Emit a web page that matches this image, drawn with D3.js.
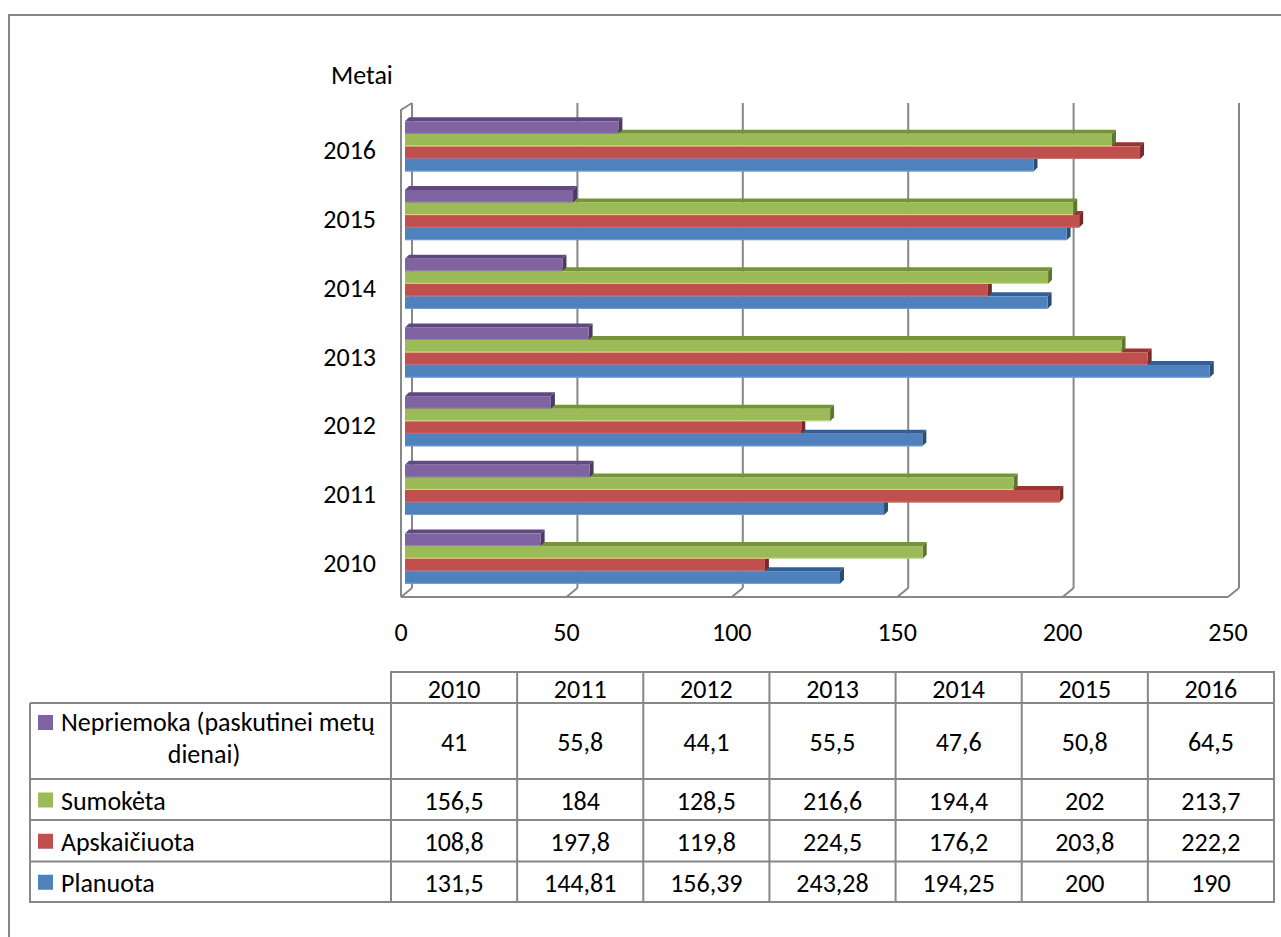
<!DOCTYPE html>
<html>
<head>
<meta charset="utf-8">
<script src="https://cdn.jsdelivr.net/npm/d3@7"></script>
<style>
  body { margin: 0; background: #fff; }
  text { font-family: Carlito, Calibri, Lato, sans-serif; font-size: 26px; fill: #000; }
</style>
</head>
<body>
<div id="chart"></div>
<script>
// data
const years = ["2010", "2011", "2012", "2013", "2014", "2015", "2016"];
const nepriemoka = [41, 55.8, 44.1, 55.5, 47.6, 50.8, 64.5];
const sumoketa = [156.5, 184, 128.5, 216.6, 194.4, 202, 213.7];
const apskaiciuota = [108.8, 197.8, 119.8, 224.5, 176.2, 203.8, 222.2];
const planuota = [131.5, 144.81, 156.39, 243.28, 194.25, 200, 190];
const xTicks = [0, 50, 100, 150, 200, 250];
const seriesNames = ["Nepriemoka (paskutinei metų dienai)", "Sumokėta", "Apskaičiuota", "Planuota"];

const series = [
  { name: seriesNames[0], values: nepriemoka, front: "#8064A2", top: "#5F4A7D", side: "#4B3A63" },
  { name: seriesNames[1], values: sumoketa, front: "#9BBB59", top: "#76923C", side: "#5E7630" },
  { name: seriesNames[2], values: apskaiciuota, front: "#C0504D", top: "#943634", side: "#772A28" },
  { name: seriesNames[3], values: planuota, front: "#4F81BD", top: "#365F91", side: "#2B4C74" }
];

const width = 1281, height = 937;
const gridColor = "#878787";

// plot geometry (front plane)
const plot = { left: 401, right: 1228, top: 116, bottom: 597 };
const wall = { dx: 11, dy: -9 };       // back wall offset
const barOff = { dx: 4, dy: -4 };      // bar front face offset
const barDepth = { dx: 4, dy: -4 };    // bar thickness

const svg = d3.select("#chart").append("svg")
  .attr("width", width)
  .attr("height", height);

// outer frame
svg.append("path")
  .attr("d", `M9,${height + 2} V15 H${width + 2}`)
  .attr("fill", "none")
  .attr("stroke", gridColor)
  .attr("stroke-width", 2);

const xScale = d3.scaleLinear().domain([0, 250]).range([plot.left, plot.right]);

const yScale = d3.scaleBand()
  .domain(years.slice().reverse())
  .range([plot.top, plot.bottom])
  .paddingInner(0.27)
  .paddingOuter(0.135);

const subScale = d3.scaleBand()
  .domain(series.map(s => s.name))
  .range([0, yScale.bandwidth()]);

// back wall grid lines + floor diagonals
const grid = svg.append("g").attr("stroke", gridColor).attr("stroke-width", 2).attr("fill", "none");
grid.selectAll(".vline")
  .data(xTicks)
  .enter()
  .append("line")
  .attr("x1", d => xScale(d) + wall.dx)
  .attr("x2", d => xScale(d) + wall.dx)
  .attr("y1", plot.top + wall.dy - 4)
  .attr("y2", plot.bottom + wall.dy);
grid.selectAll(".floor")
  .data(xTicks)
  .enter()
  .append("line")
  .attr("x1", d => xScale(d) + wall.dx)
  .attr("y1", plot.bottom + wall.dy)
  .attr("x2", d => xScale(d))
  .attr("y2", plot.bottom);
// front edge of floor
grid.append("line")
  .attr("x1", xScale(0)).attr("x2", xScale(250))
  .attr("y1", plot.bottom).attr("y2", plot.bottom);

// bars, drawn bottom series first so upper bars cover top faces
const bars = svg.append("g");
series.slice().reverse().forEach(s => {
  years.forEach((yr, i) => {
    const x0 = xScale(0) + barOff.dx;
    const x1 = xScale(s.values[i]) + barOff.dx;
    const y0 = yScale(yr) + subScale(s.name) + barOff.dy;
    const h = subScale.bandwidth();
    const g = bars.append("g");
    // top face
    g.append("path")
      .attr("d", `M${x0},${y0} L${x0 + barDepth.dx},${y0 + barDepth.dy} L${x1 + barDepth.dx},${y0 + barDepth.dy} L${x1},${y0} Z`)
      .attr("fill", s.top);
    // side face
    g.append("path")
      .attr("d", `M${x1},${y0} L${x1 + barDepth.dx},${y0 + barDepth.dy} L${x1 + barDepth.dx},${y0 + h + barDepth.dy} L${x1},${y0 + h} Z`)
      .attr("fill", s.side);
    // front face
    g.append("rect")
      .attr("x", x0)
      .attr("y", y0)
      .attr("width", x1 - x0)
      .attr("height", h)
      .attr("fill", s.front);
    g.append("line")
      .attr("x1", x0).attr("x2", x1)
      .attr("y1", y0 + h - 0.5).attr("y2", y0 + h - 0.5)
      .attr("stroke", d3.color(s.front).brighter(0.6))
      .attr("stroke-width", 1);
  });
});

// left wall edge (in front of bars)
svg.append("path")
  .attr("d", `M${xScale(0)},${plot.bottom} V${plot.top - 6} L${xScale(0) + wall.dx},${plot.top + wall.dy - 4}`)
  .attr("fill", "none")
  .attr("stroke", gridColor)
  .attr("stroke-width", 2);

// axis labels
svg.append("g")
  .selectAll("text")
  .data(xTicks)
  .enter()
  .append("text")
  .attr("x", d => xScale(d))
  .attr("y", 632)
  .attr("text-anchor", "middle")
  .attr("dominant-baseline", "central")
  .text(d => d);

svg.append("g")
  .selectAll("text")
  .data(years)
  .enter()
  .append("text")
  .attr("x", 376)
  .attr("y", d => yScale(d) + yScale.bandwidth() / 2)
  .attr("text-anchor", "end")
  .attr("dominant-baseline", "central")
  .text(d => d);

svg.append("text")
  .attr("x", 331)
  .attr("y", 75)
  .attr("dominant-baseline", "central")
  .text("Metai");

// data table
const colX = d3.scaleBand().domain(years).range([391, 1274]);
const rowTops = [703, 779, 820, 861.5];
const rowBottoms = [779, 820, 861.5, 902];
const headTop = 672;
const tbl = svg.append("g");
const fmt = v => String(v).replace(".", ",");

const tLines = tbl.append("g").attr("stroke", gridColor).attr("stroke-width", 2);
tLines.append("line").attr("x1", 391).attr("x2", 1275).attr("y1", headTop).attr("y2", headTop);
rowTops.concat([902]).forEach(y => {
  tLines.append("line").attr("x1", 30).attr("x2", 1275).attr("y1", y).attr("y2", y);
});
tLines.append("line").attr("x1", 30).attr("x2", 30).attr("y1", 703).attr("y2", 903);
years.concat(["end"]).forEach((yr, i) => {
  const x = yr === "end" ? 1274 : colX(yr);
  tLines.append("line").attr("x1", x).attr("x2", x).attr("y1", headTop - 1).attr("y2", 903);
});

// header
tbl.selectAll(".head")
  .data(years)
  .enter()
  .append("text")
  .attr("x", d => colX(d) + colX.bandwidth() / 2)
  .attr("y", (headTop + 703) / 2 + 1)
  .attr("text-anchor", "middle")
  .attr("dominant-baseline", "central")
  .text(d => d);

series.forEach((s, r) => {
  const cy = (rowTops[r] + rowBottoms[r]) / 2 + 1;
  tbl.selectAll(".row" + r)
    .data(s.values)
    .enter()
    .append("text")
    .attr("x", (d, i) => colX(years[i]) + colX.bandwidth() / 2)
    .attr("y", cy)
    .attr("text-anchor", "middle")
    .attr("dominant-baseline", "central")
    .text(d => fmt(d));

  if (r === 0) {
    tbl.append("rect").attr("x", 38).attr("y", 715).attr("width", 15).attr("height", 15).attr("fill", s.front);
    tbl.append("text").attr("x", 61).attr("y", 722).attr("dominant-baseline", "central").text("Nepriemoka (paskutinei metų");
    tbl.append("text").attr("x", 204).attr("y", 754).attr("text-anchor", "middle").attr("dominant-baseline", "central").text("dienai)");
  } else {
    tbl.append("rect").attr("x", 38).attr("y", cy - 8).attr("width", 15).attr("height", 15).attr("fill", s.front);
    tbl.append("text").attr("x", 61).attr("y", cy).attr("dominant-baseline", "central").text(s.name);
  }
});
</script>
</body>
</html>
